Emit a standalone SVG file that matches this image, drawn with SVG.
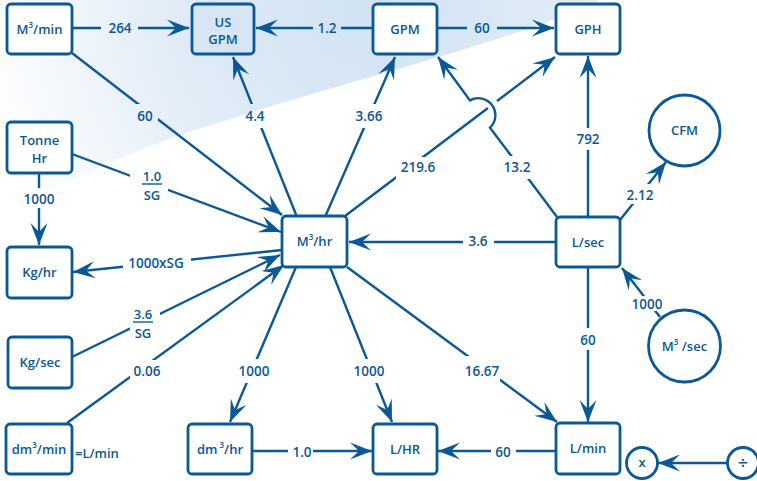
<svg xmlns="http://www.w3.org/2000/svg" width="757" height="481" viewBox="0 0 757 481">
<style>
.n rect,.n circle{fill:#fff;stroke:#0b5896;stroke-width:2.8}
.t{font-family:"Open Sans","Liberation Sans",sans-serif;font-weight:600;fill:#0b5896;text-anchor:middle}
.nt{font-size:13px}
.lt{font-size:13.5px}
.c path{fill:none;stroke:#0b5896;stroke-width:2.4}
</style>
<defs>
<marker id="ah" viewBox="-24 -10 25 20" refX="0" refY="0" markerWidth="25" markerHeight="20" markerUnits="userSpaceOnUse" orient="auto">
<path d="M0,0 L-22,-8.5 L-13,0 L-22,8.5 Z" fill="#0b5896"/>
</marker>
<radialGradient id="bg" cx="370" cy="0" r="400" gradientUnits="userSpaceOnUse">
<stop offset="0" stop-color="#d0e2f3"/>
<stop offset="0.5" stop-color="#e1ecf7"/>
<stop offset="1" stop-color="#ffffff"/>
</radialGradient>
<mask id="gap" maskUnits="userSpaceOnUse" x="0" y="0" width="757" height="481">
<rect x="0" y="0" width="757" height="481" fill="#fff"/>
<g fill="#000">
<rect x="101" y="18" width="37" height="20"/>
<rect x="313" y="18" width="28" height="20"/>
<rect x="467" y="18" width="30" height="20"/>
<rect x="132" y="104" width="26" height="22"/>
<rect x="243" y="104" width="24" height="24"/>
<rect x="352" y="104" width="34" height="24"/>
<rect x="396" y="157" width="34" height="23"/>
<rect x="505" y="156" width="25" height="23"/>
<rect x="575" y="128" width="26" height="22"/>
<rect x="130" y="165" width="38" height="40"/>
<rect x="25" y="188" width="28" height="20"/>
<rect x="123" y="252" width="68" height="22"/>
<rect x="130" y="305" width="30" height="35"/>
<rect x="130" y="360" width="27" height="22"/>
<rect x="238" y="359" width="34" height="24"/>
<rect x="353" y="359" width="34" height="24"/>
<rect x="466" y="356" width="34" height="27"/>
<rect x="288" y="442" width="25" height="20"/>
<rect x="491" y="442" width="25" height="20"/>
<rect x="463" y="230" width="31" height="22"/>
<rect x="575" y="328" width="26" height="22"/>
<rect x="632" y="296" width="32" height="15"/>
<rect x="626" y="184" width="30" height="20"/>
</g>
</mask>
</defs>
<path d="M0,0 L600,0 C520,40 330,85 180,135 C110,160 50,190 0,215 Z" fill="url(#bg)"/>
<g class="c" id="connectors" mask="url(#gap)">
<path d="M72,28 L189,28" marker-end="url(#ah)"/>
<path d="M373,28 L256,28" marker-end="url(#ah)"/>
<path d="M437,28 L554,28" marker-end="url(#ah)"/>
<path d="M72,53 L282,215" marker-end="url(#ah)"/>
<path d="M297,217 L233,57" marker-end="url(#ah)"/>
<path d="M325,217 L395,57" marker-end="url(#ah)"/>
<path d="M345,216 L488,108 M497,101 L555,57" marker-end="url(#ah)"/>
<path d="M557,217 L490,127.6 A17,17 0 0 0 470,100.4 L438,57" marker-end="url(#ah)"/>
<path d="M588,217 L588,56" marker-end="url(#ah)"/>
<path d="M620,220 L666,162" marker-end="url(#ah)"/>
<path d="M72,154 L281,232" marker-end="url(#ah)"/>
<path d="M39,173 L39,245" marker-end="url(#ah)"/>
<path d="M282,250 L73,272" marker-end="url(#ah)"/>
<path d="M72,357 L280,255" marker-end="url(#ah)"/>
<path d="M67,423 L284,265" marker-end="url(#ah)"/>
<path d="M556,242 L349,242" marker-end="url(#ah)"/>
<path d="M296,267 L230,422" marker-end="url(#ah)"/>
<path d="M330,267 L392,422" marker-end="url(#ah)"/>
<path d="M347,267 L557,422" marker-end="url(#ah)"/>
<path d="M252,451 L372,451" marker-end="url(#ah)"/>
<path d="M556,451 L438,451" marker-end="url(#ah)"/>
<path d="M588,267 L588,422" marker-end="url(#ah)"/>
<path d="M660,317 L622,268" marker-end="url(#ah)"/>
<path d="M727,463 L658,463" marker-end="url(#ah)"/>
</g>
<g class="t lt">
<text x="120" y="33">264</text>
<text x="327" y="33">1.2</text>
<text x="482" y="33">60</text>
<text x="145" y="121">60</text>
<text x="255" y="121">4.4</text>
<text x="369" y="121">3.66</text>
<text x="418" y="172">219.6</text>
<text x="517" y="172">13.2</text>
<text x="588" y="144">792</text>
<text x="640" y="200">2.12</text>
<text x="152" y="181" font-size="13">1.0</text>
<text x="152" y="200" font-size="13">SG</text>
<text x="39" y="204">1000</text>
<text x="156" y="268">1000xSG</text>
<text x="143" y="319" font-size="13">3.6</text>
<text x="143" y="338" font-size="13">SG</text>
<text x="147" y="376">0.06</text>
<text x="254" y="376">1000</text>
<text x="369" y="376">1000</text>
<text x="482" y="376">16.67</text>
<text x="302" y="457">1.0</text>
<text x="503" y="457">60</text>
<text x="478" y="246">3.6</text>
<text x="588" y="345">60</text>
<text x="647" y="309">1000</text>
</g>
<g stroke="#0b5896" stroke-width="1.4">
<line x1="142" y1="184" x2="162" y2="184"/>
<line x1="133" y1="322" x2="153" y2="322"/>
</g>
<g class="n" id="n-m3min"><rect x="7" y="4" width="65" height="50" rx="4"/><text class="t nt" x="39.5" y="34">M<tspan font-size="8" dy="-6">3</tspan><tspan dy="6">/min</tspan></text></g>
<g class="n" id="n-usgpm"><rect x="192" y="4" width="62" height="50" rx="4" style="fill:#d6e6f5"/><text class="t nt" x="223" y="27">US</text><text class="t nt" x="223" y="44">GPM</text></g>
<g class="n" id="n-gpm"><rect x="373" y="4" width="64" height="50" rx="4"/><text class="t nt" x="405" y="34">GPM</text></g>
<g class="n" id="n-gph"><rect x="556" y="4" width="64" height="50" rx="4"/><text class="t nt" x="588" y="34">GPH</text></g>
<g class="n" id="n-tonne"><rect x="7" y="122" width="65" height="51" rx="4"/><text class="t nt" x="39.5" y="145">Tonne</text><text class="t nt" x="39.5" y="163">Hr</text></g>
<g class="n" id="n-kghr"><rect x="7" y="247" width="65" height="51" rx="4"/><text class="t nt" x="39.5" y="277">Kg/hr</text></g>
<g class="n" id="n-m3hr"><rect x="282" y="216" width="65" height="51" rx="4"/><text class="t nt" x="314.5" y="246">M<tspan font-size="8" dy="-6">3</tspan><tspan dy="6">/hr</tspan></text></g>
<g class="n" id="n-lsec"><rect x="556" y="217" width="64" height="50" rx="4"/><text class="t nt" x="588" y="247">L/sec</text></g>
<g class="n" id="n-cfm"><circle cx="684.5" cy="130.5" r="35.5"/><text class="t nt" x="684.5" y="135">CFM</text></g>
<g class="n" id="n-m3sec"><circle cx="684.5" cy="346" r="36"/><text class="t nt" x="684.5" y="351">M<tspan font-size="8" dy="-6">3</tspan><tspan dy="6"> /sec</tspan></text></g>
<g class="n" id="n-kgsec"><rect x="8" y="337" width="64" height="51" rx="4"/><text class="t nt" x="40" y="367">Kg/sec</text></g>
<g class="n" id="n-dm3min"><rect x="6" y="424" width="66" height="50" rx="4"/><text class="t nt" x="39" y="454">dm<tspan font-size="8" dy="-6">3</tspan><tspan dy="6">/min</tspan></text></g>
<text class="t nt" x="75" y="458" style="text-anchor:start">=L/min</text>
<g class="n" id="n-dm3hr"><rect x="188" y="424" width="64" height="50" rx="4"/><text class="t nt" x="220" y="454">dm<tspan font-size="8" dy="-6"> 3</tspan><tspan dy="6">/hr</tspan></text></g>
<g class="n" id="n-lhr"><rect x="373" y="424" width="64" height="50" rx="4"/><text class="t nt" x="405" y="454">L/HR</text></g>
<g class="n" id="n-lmin"><rect x="556" y="423" width="64" height="51" rx="4"/><text class="t nt" x="588" y="453">L/min</text></g>
<g class="n" id="n-x"><circle cx="642" cy="463" r="15.5"/><text class="t nt" x="642" y="467">x</text></g>
<g class="n" id="n-div"><circle cx="743" cy="463" r="15.5"/><text class="t" x="743" y="469" font-size="18">÷</text></g>
</svg>
